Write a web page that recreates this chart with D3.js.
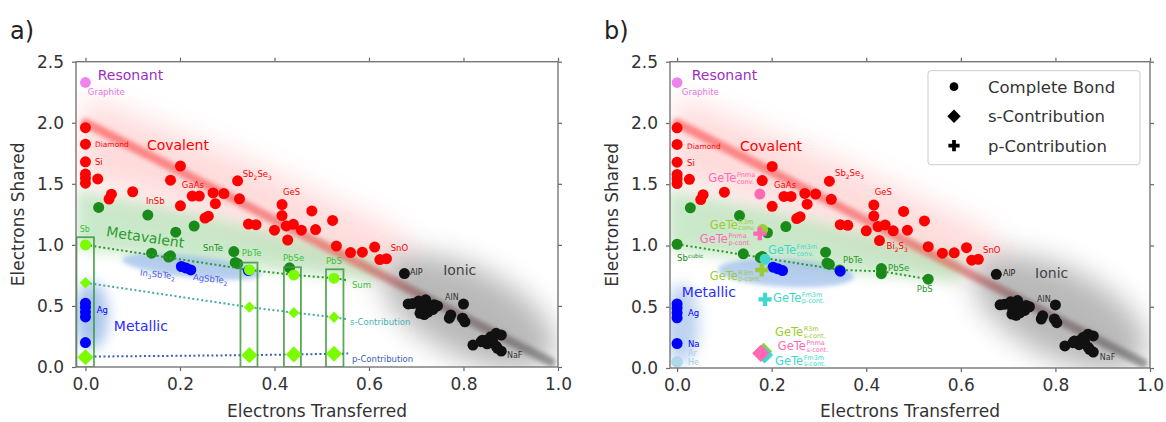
<!DOCTYPE html>
<html>
<head>
<meta charset="utf-8">
<script src="https://cdn.jsdelivr.net/npm/d3@7"></script>
<style>
  body { margin: 0; background: #fff; }
  svg { display: block; }
  text { font-family: "DejaVu Sans", sans-serif; }
</style>
</head>
<body>
<svg id="chart" width="1166" height="422"></svg>
<script>
// ---- data ----
var xTicks = [0, 0.2, 0.4, 0.6, 0.8, 1.0];
var yTicks = [0, 0.5, 1.0, 1.5, 2.0, 2.5];

var resonant = [[0, 2.33]];
var covalent = [[0,1.96],[0,1.825],[0,1.68],[0,1.58],[0,1.545],[0,1.505],[0.026,1.54],[0.05,1.375],
  [0.055,1.415],[0.1,1.435],[0.18,1.53],[0.201,1.645],[0.201,1.32],[0.226,1.40],[0.241,1.40],
  [0.253,1.22],[0.26,1.235],[0.27,1.425],[0.275,1.337],[0.293,1.42],[0.322,1.525],[0.326,1.377],
  [0.345,1.17],[0.361,1.165],[0.40,1.12],[0.416,1.33],[0.416,1.24],[0.425,1.155],[0.428,1.04],
  [0.44,1.168],[0.457,1.12],[0.479,1.278],[0.487,1.125],[0.523,1.20],[0.531,0.99],[0.561,0.937],
  [0.586,0.94],[0.612,0.982],[0.623,0.88],[0.637,0.887]];
var metavalent = [[0.028,1.307],[0.132,1.244],[0.191,1.104],[0.23,1.154],[0.14,0.932],[0.176,0.9],
  [0.18,0.91],[0.314,0.945],[0.317,0.856],[0.322,0.846],[0.432,0.812]];
var metallic = [[0,0.523],[0,0.49],[0,0.45],[0,0.41],[0,0.2],[0.203,0.823],[0.213,0.81],[0.223,0.795],[0.345,0.79]];
var ionic = [[0.675,0.765],[0.683,0.516],[0.692,0.52],[0.705,0.54],[0.72,0.55],[0.71,0.48],[0.717,0.43],
  [0.708,0.44],[0.727,0.49],[0.735,0.47],[0.738,0.51],[0.725,0.45],[0.745,0.5],[0.773,0.426],[0.77,0.40],
  [0.80,0.515],[0.798,0.40],[0.803,0.37],[0.82,0.18],[0.837,0.207],[0.848,0.22],[0.858,0.248],
  [0.869,0.276],[0.88,0.262],[0.862,0.207],[0.85,0.19],[0.872,0.153],[0.88,0.13],[0.869,0.17],[0.84,0.22]];

// panel a: Sb, PbTe, PbSe, PbS decomposed
var sumA = [[0,1.0],[0.347,0.795],[0.441,0.754],[0.526,0.727]];
var sContA = [[0,0.69],[0.347,0.49],[0.441,0.445],[0.526,0.407]];
var pContA = [[0,0.08],[0.347,0.097],[0.441,0.103],[0.526,0.108]];
var sumLineA = [[0,1.0],[0.347,0.795],[0.441,0.754],[0.526,0.727],[0.556,0.71]];
var sLineA = [[0,0.69],[0.347,0.49],[0.441,0.445],[0.526,0.407],[0.556,0.39]];
var pLineA = [[0,0.085],[0.347,0.097],[0.441,0.103],[0.526,0.108],[0.556,0.11]];
var boxXA = [[-0.019,0.018],[0.328,0.364],[0.42,0.456],[0.509,0.546]];
var boxTopA = [1.063, 0.855, 0.817, 0.80];

// panel b extras
var metavalentB = [[0,1.01],[0.344,0.80],[0.432,0.77],[0.531,0.725]];
var chainB = [[0,1.01],[0.344,0.80],[0.432,0.79],[0.531,0.725]];
var nobleB = [[0,0.05]];
var phases = ["Pnma", "R3m", "Fm3m"];
var phaseColors = ["#ff69b4", "#9acd32", "#40d8cc"];
var geteConv = [[0.175,1.42],[0.181,1.13],[0.186,0.888]];
var geteP = [[0.175,1.097],[0.179,0.80],[0.186,0.56]];
var geteS = [[0.177,0.12],[0.183,0.135],[0.185,0.107]];

var svg = d3.select("#chart");
var defs = svg.append("defs");
[2, 4, 7, 14].forEach(function (s) {
  defs.append("filter").attr("id", "blur" + s)
    .attr("x", "-60%").attr("y", "-60%").attr("width", "220%").attr("height", "220%")
    .append("feGaussianBlur").attr("stdDeviation", s);
});
var grad = defs.append("linearGradient").attr("id", "lineGrad")
  .attr("x1", "0%").attr("x2", "100%").attr("y1", "0%").attr("y2", "0%");
grad.append("stop").attr("offset", "0%").attr("stop-color", "#ff3a3a");
grad.append("stop").attr("offset", "58%").attr("stop-color", "#e84848");
grad.append("stop").attr("offset", "75%").attr("stop-color", "#6a4a4a");
grad.append("stop").attr("offset", "100%").attr("stop-color", "#555");

function panel(cfg) {
  var x = d3.scaleLinear().domain(cfg.xDomain).range([cfg.left, cfg.right]);
  var y = d3.scaleLinear().domain([0, 2.5]).range([cfg.bottom, cfg.top]);
  var g = svg.append("g");
  defs.append("clipPath").attr("id", cfg.id + "clip").append("rect")
    .attr("x", cfg.left).attr("y", cfg.top)
    .attr("width", cfg.right - cfg.left).attr("height", cfg.bottom - cfg.top);
  var plot = g.append("g").attr("clip-path", "url(#" + cfg.id + "clip)");
  return { g: g, plot: plot, x: x, y: y, cfg: cfg };
}

function axes(p, label) {
  var c = p.cfg, g = p.g;
  var mk = [
    [d3.axisBottom(p.x).tickValues(xTicks).tickFormat(d3.format(".1f")), c.bottom],
    [d3.axisTop(p.x).tickValues(xTicks).tickFormat(""), c.top]
  ];
  mk.forEach(function (m) {
    var a = g.append("g").attr("transform", "translate(0," + m[1] + ")")
      .call(m[0].tickSize(4).tickSizeOuter(0).tickPadding(7));
    a.select(".domain").remove();
  });
  var my = [
    [d3.axisLeft(p.y).tickValues(yTicks).tickFormat(d3.format(".1f")), c.left],
    [d3.axisRight(p.y).tickValues(yTicks).tickFormat(""), c.right]
  ];
  my.forEach(function (m) {
    var a = g.append("g").attr("transform", "translate(" + m[1] + ",0)")
      .call(m[0].tickSize(4).tickSizeOuter(0).tickPadding(8));
    a.select(".domain").remove();
  });
  g.selectAll(".tick line").attr("stroke", "#666").attr("stroke-width", 1.2);
  g.selectAll(".tick text").attr("font-size", 17).attr("fill", "#333")
    .attr("font-family", "DejaVu Sans, sans-serif");
  g.append("rect").attr("x", c.left).attr("y", c.top)
    .attr("width", c.right - c.left).attr("height", c.bottom - c.top)
    .attr("fill", "none").attr("stroke", "#777").attr("stroke-width", 1.4);
  g.append("text").attr("x", (c.left + c.right) / 2).attr("y", 417)
    .attr("text-anchor", "middle").attr("font-size", 17).attr("fill", "#333")
    .text("Electrons Transferred");
  g.append("text").attr("transform", "translate(" + (c.left - 52) + "," + ((c.top + c.bottom) / 2) + ") rotate(-90)")
    .attr("text-anchor", "middle").attr("font-size", 17).attr("fill", "#333")
    .text("Electrons Shared");
  g.append("text").attr("x", c.left - 66).attr("y", 39).attr("font-size", 24).attr("fill", "#222").text(label);
}

function background(p, o) {
  var x = p.x, y = p.y, pl = p.plot;
  var line = d3.line().x(function (d) { return x(d[0]); }).y(function (d) { return y(d[1]); });
  // covalent glow
  pl.append("path").attr("d", line([[0,2.22],[0.35,1.68],[0.66,1.12],[0.7,0.86],[0.6,0.8],[0.3,1.2],[-0.02,1.55]]) + "Z")
    .attr("fill", "#ff6060").attr("opacity", 0.22).attr("filter", "url(#blur14)");
  // metavalent band
  pl.append("path").attr("d", line(o.green) + "Z")
    .attr("fill", "#7cc87c").attr("opacity", 0.4).attr("filter", "url(#blur7)");
  // ionic cloud
  pl.append("ellipse").attr("cx", x(o.grayC[0])).attr("cy", y(o.grayC[1]))
    .attr("rx", 95).attr("ry", 44)
    .attr("transform", "rotate(27," + x(o.grayC[0]) + "," + y(o.grayC[1]) + ")")
    .attr("fill", "#8a8a8a").attr("opacity", 0.6).attr("filter", "url(#blur14)");
  // metallic clouds
  pl.append("ellipse").attr("cx", x(o.blueC[0])).attr("cy", y(o.blueC[1]))
    .attr("rx", o.blueR[0]).attr("ry", o.blueR[1])
    .attr("transform", "rotate(" + o.blueRot + "," + x(o.blueC[0]) + "," + y(o.blueC[1]) + ")")
    .attr("fill", "#8bb0e8").attr("opacity", 0.6).attr("filter", "url(#blur2)");
  pl.append("ellipse").attr("cx", x(o.agC[0])).attr("cy", y(o.agC[1]))
    .attr("rx", 17).attr("ry", o.agRy)
    .attr("fill", "#6f9fe0").attr("opacity", o.agOp).attr("filter", "url(#blur7)");
  // trend line
  pl.append("path").attr("d", line([[0,2.0],[0.985,0.04]]))
    .attr("stroke", "url(#lineGrad)").attr("stroke-width", 9).attr("stroke-linecap", "round")
    .attr("opacity", 0.55).attr("filter", "url(#blur2)").attr("fill", "none");
}

function marks(p, pts, type, size, color, rot) {
  p.plot.append("g").selectAll("path").data(pts).enter().append("path")
    .attr("d", d3.symbol().type(type).size(size))
    .attr("transform", function (d) {
      return "translate(" + p.x(d[0]) + "," + p.y(d[1]) + ")" + (rot ? " rotate(45)" : "");
    })
    .attr("fill", color);
}

function dotted(p, pts, color) {
  p.plot.append("path")
    .attr("d", d3.line().x(function (d) { return p.x(d[0]); }).y(function (d) { return p.y(d[1]); })(pts))
    .attr("fill", "none").attr("stroke", color).attr("stroke-width", 2)
    .attr("stroke-dasharray", "2,2.5");
}

// rich text: parts like ["Sb", ["2","sub"], "Se", ["3","sub"]]
function label(p, pos, parts, color, size, rot) {
  var px = p.x(pos[0]), py = p.y(pos[1]);
  var t = p.g.append("text").attr("x", px).attr("y", py)
    .attr("font-size", size).attr("fill", color);
  if (rot) t.attr("transform", "rotate(" + rot + "," + px + "," + py + ")");
  if (typeof parts === "string") parts = [parts];
  var shift = 0;
  parts.forEach(function (s) {
    if (typeof s === "string") {
      t.append("tspan").attr("dy", -shift).text(s);
      shift = 0;
    } else {
      var d = s[1] === "sub" ? size * 0.3 : -size * 0.4;
      t.append("tspan").attr("dy", d - shift).attr("font-size", size * 0.7).text(s[0]);
      shift = d;
    }
  });
}

function geteLabel(p, pos, phase, kind, color) {
  var px = p.x(pos[0]), py = p.y(pos[1]);
  var main = p.g.append("text").attr("x", px).attr("y", py).attr("font-size", 11.5)
    .attr("fill", color).text("GeTe");
  var w = main.node().getComputedTextLength();
  p.g.append("text").attr("x", px + w + 0.5).attr("y", py - 5).attr("font-size", 6.5)
    .attr("fill", color).text(phase);
  p.g.append("text").attr("x", px + w + 0.5).attr("y", py + 1.5).attr("font-size", 6.5)
    .attr("fill", color).text(kind);
}

var RED = "#ff0000", DKG = "#1a8a1a", BLUE = "#0000ff", LIME = "#7cfc00", BLK = "#111";

// ---------------- panel a ----------------
var A = panel({ id: "a", left: 76, right: 558, top: 61.7, bottom: 367, xDomain: [-0.02, 1.0] });
background(A, {
  green: [[-0.02,1.45],[0.2,1.29],[0.62,0.9],[0.62,0.7],[0.3,0.83],[-0.02,0.97]],
  grayC: [0.81, 0.45], blueC: [0.225, 0.82], blueR: [70, 11], blueRot: 6,
  agC: [0.012, 0.42], agRy: 34, agOp: 0.6
});
marks(A, resonant, d3.symbolCircle, 90, "#ee82ee");
marks(A, covalent, d3.symbolCircle, 95, RED);
marks(A, metavalent, d3.symbolCircle, 95, DKG);
marks(A, metallic, d3.symbolCircle, 95, BLUE);
marks(A, ionic, d3.symbolCircle, 95, BLK);
dotted(A, sumLineA, "#2a9a2a");
dotted(A, sLineA, "#48aaaa");
dotted(A, pLineA, "#3a62b8");
A.plot.append("g").selectAll("rect").data(boxXA).enter().append("rect")
  .attr("x", function (d) { return A.x(d[0]); })
  .attr("y", function (d, i) { return A.y(boxTopA[i]); })
  .attr("width", function (d) { return A.x(d[1]) - A.x(d[0]); })
  .attr("height", function (d, i) { return A.y(0) - A.y(boxTopA[i]); })
  .attr("fill", "none").attr("stroke", "#3c9a3c").attr("stroke-width", 1.8).attr("opacity", 0.85);
marks(A, sumA, d3.symbolCircle, 95, LIME);
marks(A, sContA, d3.symbolSquare, 65, LIME, true);
marks(A, pContA, d3.symbolSquare, 130, LIME, true);
axes(A, "a)");

var labelsA = [
  [[0.026,2.35], "Resonant", "#9b30c0", 14],
  [[0.005,2.23], "Graphite", "#dd77dd", 8.5],
  [[0.02,1.80], "Diamond", RED, 7.5],
  [[0.02,1.655], "Si", RED, 8.5],
  [[0.13,1.777], "Covalent", RED, 14],
  [[0.128,1.335], "InSb", RED, 8.5],
  [[0.204,1.466], "GaAs", RED, 8.5],
  [[0.333,1.556], ["Sb", ["2","sub"], "Se", ["3","sub"]], RED, 8.5],
  [[0.418,1.409], "GeS", RED, 8.5],
  [[0.646,0.946], "SnO", RED, 8.5],
  [[0.687,0.753], "AlP", "#222", 8],
  [[0.757,0.753], "Ionic", "#444", 14],
  [[0.761,0.549], "AlN", "#333", 8],
  [[0.892,0.074], "NaF", "#333", 8],
  [[-0.012,1.106], "Sb", "#3cbf3c", 8],
  [[0.249,0.95], "SnTe", DKG, 8.5],
  [[0.331,0.909], "PbTe", "#3cbf3c", 8.5],
  [[0.418,0.872], "PbSe", "#3cbf3c", 8.5],
  [[0.509,0.844], "PbS", "#3cbf3c", 8.5],
  [[0.024,0.442], "Ag", BLUE, 8.5],
  [[0.06,0.295], "Metallic", "#2b2bff", 14],
  [[0.564,0.647], "Sum", "#3cbf3c", 8.5],
  [[0.56,0.34], "s-Contribution", "#48b4b4", 8.5],
  [[0.564,0.045], "p-Contribution", "#3a62b8", 8.5]
];
labelsA.forEach(function (l) { label(A, l[0], l[1], l[2], l[3]); });
label(A, [0.043,1.072], "Metavalent", "#2a9a2a", 14, 8.6);
label(A, [0.115,0.75], ["In", ["3","sub"], "SbTe", ["2","sub"]], "#4a5ae8", 8.5, 6);
label(A, [0.227,0.712], ["AgSbTe", ["2","sub"]], "#4a5ae8", 8.5, 6);

// ---------------- panel b ----------------
var B = panel({ id: "b", left: 670, right: 1150, top: 61.7, bottom: 368, xDomain: [-0.015, 1.0] });
background(B, {
  green: [[-0.02,1.45],[0.2,1.29],[0.6,0.92],[0.6,0.7],[0.3,0.8],[-0.02,0.97]],
  grayC: [0.81, 0.45], blueC: [0.23, 0.775], blueR: [68, 14], blueRot: 3,
  agC: [0.01, 0.36], agRy: 40, agOp: 0.45
});
marks(B, resonant, d3.symbolCircle, 90, "#ee82ee");
marks(B, covalent, d3.symbolCircle, 95, RED);
dotted(B, chainB, "#2a9a2a");
marks(B, metavalent, d3.symbolCircle, 95, DKG);
marks(B, metavalentB, d3.symbolCircle, 95, DKG);
marks(B, metallic, d3.symbolCircle, 95, BLUE);
marks(B, nobleB, d3.symbolCircle, 110, "#b0d8ea");
marks(B, ionic, d3.symbolCircle, 95, BLK);
[1, 2, 0].forEach(function (i) {
  marks(B, [geteS[i]], d3.symbolSquare, 150, phaseColors[i], true);
});
[1, 2, 0].forEach(function (i) {
  marks(B, [geteConv[i]], d3.symbolCircle, 95, phaseColors[i]);
});
[0, 1, 2].forEach(function (i) {
  marks(B, [geteP[i]], d3.symbolCross, 95, phaseColors[i]);
});
axes(B, "b)");

var labelsB = [
  [[0.031,2.347], "Resonant", "#9b30c0", 14],
  [[0.01,2.229], "Graphite", "#dd77dd", 8.5],
  [[0.021,1.788], "Diamond", RED, 7.5],
  [[0.021,1.649], "Si", RED, 8.5],
  [[0.133,1.771], "Covalent", RED, 14],
  [[0.205,1.469], "GaAs", RED, 8.5],
  [[0.334,1.567], ["Sb", ["2","sub"], "Se", ["3","sub"]], RED, 8.5],
  [[0.418,1.412], "GeS", RED, 8.5],
  [[0.443,0.971], ["Bi", ["2","sub"], "S", ["3","sub"]], RED, 8.5],
  [[0.647,0.939], "SnO", RED, 8.5],
  [[0.689,0.751], "AlP", "#222", 8],
  [[0.757,0.735], "Ionic", "#444", 14],
  [[0.761,0.539], "AlN", "#333", 8],
  [[0.894,0.065], "NaF", "#333", 8],
  [[0.0,0.873], ["Sb", ["cubic","sup"]], DKG, 8.5],
  [[0.351,0.857], "PbTe", "#2a9a2a", 8.5],
  [[0.446,0.792], "PbSe", "#2a9a2a", 8.5],
  [[0.507,0.62], "PbS", "#2a9a2a", 8.5],
  [[0.01,0.58], "Metallic", "#2b2bff", 14],
  [[0.023,0.424], "Ag", BLUE, 8.5],
  [[0.023,0.171], "Na", BLUE, 8.5],
  [[0.023,0.098], "Ar", "#a8cce0", 8],
  [[0.023,0.024], "He", "#a8cce0", 8]
];
labelsB.forEach(function (l) { label(B, l[0], l[1], l[2], l[3]); });

var geteLabels = [
  [[0.066,1.518], 0, "conv."],
  [[0.048,1.02], 0, "p-cont."],
  [[0.069,1.135], 1, "conv."],
  [[0.069,0.72], 1, "p-cont."],
  [[0.192,0.927], 2, "conv."],
  [[0.203,0.539], 2, "p-cont."],
  [[0.207,0.258], 1, "s-cont."],
  [[0.213,0.143], 0, "s-cont."],
  [[0.207,0.028], 2, "s-cont."]
];
geteLabels.forEach(function (l) { geteLabel(B, l[0], phases[l[1]], l[2], phaseColors[l[1]]); });

// legend
var legendItems = [
  [d3.symbolCircle, 60, false, "Complete Bond"],
  [d3.symbolSquare, 90, true, "s-Contribution"],
  [d3.symbolCross, 70, false, "p-Contribution"]
];
var lg = B.g.append("g").attr("transform", "translate(" + (B.cfg.right - 222) + "," + (B.cfg.top + 9) + ")");
lg.append("rect").attr("width", 212).attr("height", 94).attr("rx", 3)
  .attr("fill", "#fff").attr("fill-opacity", 0.85).attr("stroke", "#ccc");
lg.selectAll("g.item").data(legendItems).enter().append("g")
  .attr("transform", function (d, i) { return "translate(26," + (16 + i * 29.5) + ")"; })
  .each(function (d) {
    var s = d3.select(this);
    s.append("path").attr("d", d3.symbol().type(d[0]).size(d[1])())
      .attr("transform", d[2] ? "rotate(45)" : null).attr("fill", "#000");
    s.append("text").attr("x", 34).attr("y", 6).attr("font-size", 16.5).attr("fill", "#333").text(d[3]);
  });
</script>
</body>
</html>
